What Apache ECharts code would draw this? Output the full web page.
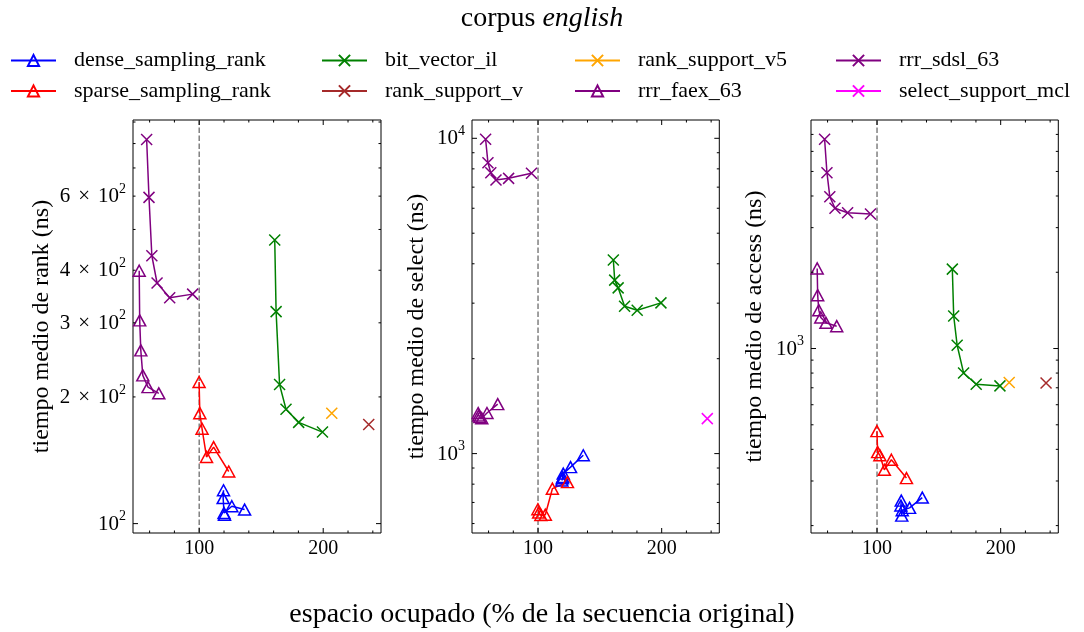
<!DOCTYPE html>
<html><head><meta charset="utf-8">
<script src="https://cdn.jsdelivr.net/npm/echarts@6/dist/echarts.min.js"></script>
<style>html,body{margin:0;padding:0;background:#fff}#c{width:1084px;height:632px}</style>
</head><body><div id="c"></div>
<script>
// ---------------- data ----------------
const FONT = 'Liberation Serif';
const xRange = [46.6, 246.6];
const rankRange = [95, 910];
const selectRange = [560, 11430];
const accessRange = [187, 7980];

const denseX = [119.6, 119.3, 120.0, 120.4, 126.3, 136.6];
const denseRank = [120, 115, 106, 105, 110, 108];
const denseSelect = [835, 822, 843, 864, 906, 988];
const denseAccess = [251, 240, 219, 230, 235, 258];

const sparseX = [99.9, 100.5, 102.3, 105.9, 111.6, 123.8];
const sparseRank = [217, 183, 168, 144, 152, 133];
const sparseSelect = [666, 650, 638, 640, 774, 812];
const sparseAccess = [472, 390, 379, 332, 364, 308];

const bvX = [160.9, 162.0, 164.8, 170.0, 180.2, 199.4];
const bvRank = [472, 319, 214, 187, 174, 165];
const bvSelect = [4110, 3550, 3355, 2935, 2850, 3007];
const bvAccess = [2058, 1345, 1030, 801, 723, 712];

const rsv5X = [206.9];
const rsv5Rank = [183];
const rsv5Access = [734];

const rsvX = [236.7];
const rsvRank = [172];
const rsvAccess = [731];

const mclX = [236.9];
const mclSelect = [1291];

const faexX = [51.6, 52.0, 52.9, 54.5, 58.7, 67.4];
const faexRank = [399, 304, 258, 225, 211, 204];
const faexSelect = [1345, 1320, 1305, 1295, 1345, 1435];
const faexAccess = [2071, 1624, 1417, 1326, 1263, 1225];

const sdslX = [57.6, 59.5, 61.8, 66.0, 76.2, 94.7];
const sdslRank = [818, 596, 433, 373, 344, 351];
const sdslSelect = [9927, 8364, 7778, 7374, 7464, 7744];
const sdslAccess = [6700, 4943, 3975, 3576, 3436, 3395];

const refLineX = 100;

const xMajorTicks = [100, 200];
const xMinorTicks = [60, 80, 120, 140, 160, 180, 220, 240];
const rankMajorTicks = [100];
const rankMinorTicks = [200, 300, 400, 500, 600, 700, 800, 900];
const selectMajorTicks = [1000, 10000];
const selectMinorTicks = [600, 700, 800, 900, 2000, 3000, 4000, 5000, 6000, 7000, 8000, 9000];
const accessMajorTicks = [1000];
const accessMinorTicks = [200, 300, 400, 500, 600, 700, 800, 900, 2000, 3000, 4000, 5000, 6000, 7000];
// tick labels: [value, mantissa, exponent]
const rankTickLabels = [[100, '', '2'], [200, '2', '2'], [300, '3', '2'], [400, '4', '2'], [600, '6', '2']];
const selectTickLabels = [[1000, '', '3'], [10000, '', '4']];
const accessTickLabels = [[1000, '', '3']];

const yTitles = ['tiempo medio de rank (ns)', 'tiempo medio de select (ns)', 'tiempo medio de access (ns)'];
const xTitle = 'espacio ocupado (% de la secuencia original)';

// ---------------- build ----------------
const yRanges = [rankRange, selectRange, accessRange];
const yMajor = [rankMajorTicks, selectMajorTicks, accessMajorTicks];
const yMinor = [rankMinorTicks, selectMinorTicks, accessMinorTicks];
const yLabs = [rankTickLabels, selectTickLabels, accessTickLabels];

const methods = [
  {name: 'dense_sampling_rank', mk: 'tri', color: '#0000ff', x: denseX, ys: [denseRank, denseSelect, denseAccess]},
  {name: 'sparse_sampling_rank', mk: 'tri', color: '#ff0000', x: sparseX, ys: [sparseRank, sparseSelect, sparseAccess]},
  {name: 'bit_vector_il', mk: 'x', color: '#008000', x: bvX, ys: [bvRank, bvSelect, bvAccess]},
  {name: 'rank_support_v', mk: 'x', color: '#a52a2a', x: rsvX, ys: [rsvRank, null, rsvAccess]},
  {name: 'rank_support_v5', mk: 'x', color: '#ffa500', x: rsv5X, ys: [rsv5Rank, null, rsv5Access]},
  {name: 'rrr_faex_63', mk: 'tri', color: '#800080', x: faexX, ys: [faexRank, faexSelect, faexAccess]},
  {name: 'rrr_sdsl_63', mk: 'x', color: '#800080', x: sdslX, ys: [sdslRank, sdslSelect, sdslAccess]},
  {name: 'select_support_mcl', mk: 'x', color: '#ff00ff', x: mclX, ys: [null, mclSelect, null]}
];

const gridBoxes = [
  {left: 133, top: 120, width: 248, height: 413},
  {left: 472, top: 120, width: 247.3, height: 413},
  {left: 811, top: 120, width: 247.3, height: 413}
];
const nameGaps = [79, 43, 44];

const grid = [], xAxis = [], yAxis = [], series = [];
const XPATH = 'path://M0,0L10,10M10,0L0,10';

gridBoxes.forEach((g, i) => {
  grid.push(Object.assign({show: true, borderColor: '#000', borderWidth: 1, backgroundColor: 'rgba(0,0,0,0)', containLabel: false}, g));
  xAxis.push({type: 'value', gridIndex: i, min: xRange[0], max: xRange[1],
    axisLine: {show: false}, axisTick: {show: false}, axisLabel: {show: false}, splitLine: {show: false}});
  yAxis.push({type: 'log', logBase: 10, gridIndex: i, min: yRanges[i][0], max: yRanges[i][1],
    axisLine: {show: false}, axisTick: {show: false}, axisLabel: {show: false}, splitLine: {show: false},
    minorTick: {show: false}, minorSplitLine: {show: false},
    name: yTitles[i], nameLocation: 'middle', nameGap: nameGaps[i],
    nameTextStyle: {fontFamily: FONT, fontSize: 24, color: '#000'}});

  // dashed reference line at 100 %
  series.push({type: 'line', xAxisIndex: i, yAxisIndex: i, silent: true, z: 1,
    data: [[refLineX, yRanges[i][0]], [refLineX, yRanges[i][1]]], symbol: 'none',
    lineStyle: {color: '#808080', width: 1.5, type: [5.5, 2.5]}, animation: false});

  // data series
  methods.forEach(m => {
    const ys = m.ys[i];
    if (!ys) return;
    const data = m.x.map((x, k) => [x, ys[k]]);
    const isTri = m.mk === 'tri';
    series.push({
      type: 'line', name: m.name, xAxisIndex: i, yAxisIndex: i, data: data, z: 3,
      symbol: isTri ? 'triangle' : XPATH, symbolSize: isTri ? [12, 11] : 11, showSymbol: true,
      lineStyle: {color: m.color, width: 1.5},
      itemStyle: {color: 'rgba(0,0,0,0)', borderColor: m.color, borderWidth: 1.5},
      emphasis: {disabled: true}, animation: false
    });
  });

  // y ticks
  const yt = yMajor[i].map(v => [xRange[0], v, 1]).concat(yMinor[i].map(v => [xRange[0], v, 0]));
  series.push({type: 'custom', xAxisIndex: i, yAxisIndex: i, silent: true, z: 5, data: yt, clip: false,
    renderItem: (params, api) => {
      const cs = params.coordSys;
      const p = api.coord([api.value(0), api.value(1)]);
      const len = api.value(2) ? 5 : 2.5;
      const st = {stroke: '#000', lineWidth: 1};
      return {type: 'group', children: [
        {type: 'line', shape: {x1: cs.x, y1: p[1], x2: cs.x + len, y2: p[1]}, style: st},
        {type: 'line', shape: {x1: cs.x + cs.width, y1: p[1], x2: cs.x + cs.width - len, y2: p[1]}, style: st}
      ]};
    }});
  // x ticks
  const xt = xMajorTicks.map(v => [v, yRanges[i][0], 1]).concat(xMinorTicks.map(v => [v, yRanges[i][0], 0]));
  series.push({type: 'custom', xAxisIndex: i, yAxisIndex: i, silent: true, z: 5, data: xt, clip: false,
    renderItem: (params, api) => {
      const cs = params.coordSys;
      const p = api.coord([api.value(0), api.value(1)]);
      const len = api.value(2) ? 5 : 2.5;
      const st = {stroke: '#000', lineWidth: 1};
      const ch = [
        {type: 'line', shape: {x1: p[0], y1: cs.y + cs.height, x2: p[0], y2: cs.y + cs.height - len}, style: st},
        {type: 'line', shape: {x1: p[0], y1: cs.y, x2: p[0], y2: cs.y + len}, style: st}
      ];
      if (api.value(2)) {
        ch.push({type: 'text', x: p[0], y: cs.y + cs.height + 6,
          style: {text: String(api.value(0)), fontFamily: FONT, fontSize: 20, fill: '#000', align: 'center', verticalAlign: 'top'}});
      }
      return {type: 'group', children: ch};
    }});
  // y tick labels
  const labs = yLabs[i];
  series.push({type: 'custom', xAxisIndex: i, yAxisIndex: i, silent: true, z: 5,
    data: labs.map(l => [xRange[0], l[0]]), clip: false,
    renderItem: (params, api) => {
      const cs = params.coordSys;
      const p = api.coord([api.value(0), api.value(1)]);
      const l = labs[params.dataIndex];
      const txt = (l[1] ? '{b|' + l[1] + '}{t|\u00d7}' : '') + '{b|10}{s|' + l[2] + '}';
      return {type: 'text', x: cs.x - 7, y: p[1] - 1.5,
        style: {text: txt, align: 'right', verticalAlign: 'middle', fill: '#000',
          rich: {
            b: {fontFamily: FONT, fontSize: 21, padding: [4, 0, 0, 0], fill: '#000'},
            t: {fontFamily: FONT, fontSize: 21, padding: [4, 8, 0, 8], fill: '#000'},
            s: {fontFamily: FONT, fontSize: 14, verticalAlign: 'top', fill: '#000'}
          }}};
    }});
});

const legendCols = [10, 321, 574, 835];
const legendRows = [60.5, 91];
const legendOrder = [['dense_sampling_rank', 'sparse_sampling_rank'], ['bit_vector_il', 'rank_support_v'],
  ['rank_support_v5', 'rrr_faex_63'], ['rrr_sdsl_63', 'select_support_mcl']];
const legend = [];
legendOrder.forEach((col, ci) => col.forEach((name, ri) => legend.push({
  data: [name], left: legendCols[ci], top: legendRows[ri] - 11, padding: 0, itemWidth: 45, itemHeight: 14,
  selectedMode: false, textStyle: {fontFamily: FONT, fontSize: 22, color: '#000', padding: [0, 0, 0, 13]}
})));

const chart = echarts.init(document.getElementById('c'), null, {renderer: 'canvas'});
chart.setOption({
  animation: false,
  backgroundColor: '#fff',
  title: {text: '{a|corpus }{b|english}', left: 'center', top: 0, padding: 5,
    textStyle: {fontWeight: 'normal', rich: {a: {fontFamily: FONT, fontSize: 28, fontWeight: 'normal', color: '#000'},
      b: {fontFamily: FONT, fontSize: 28, fontStyle: 'italic', fontWeight: 'normal', color: '#000'}}}},
  legend: legend,
  grid: grid, xAxis: xAxis, yAxis: yAxis, series: series,
  graphic: [{type: 'text', x: 542, y: 615, silent: true,
    style: {text: xTitle, fontFamily: FONT, fontSize: 28, fill: '#000', align: 'center', verticalAlign: 'middle'}}]
});
</script></body></html>
